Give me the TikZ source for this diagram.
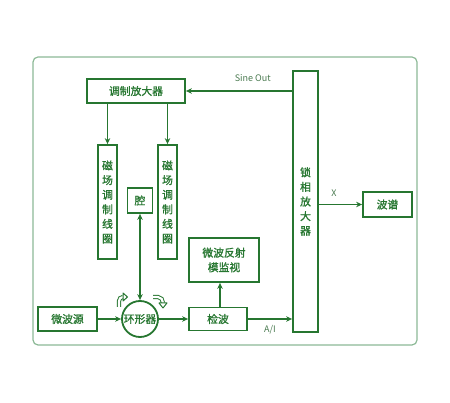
\documentclass[tikz,border=0pt]{standalone}
\usepackage{fontspec}
\setmainfont{Noto Sans CJK SC}
\newfontfamily\cjkb{Noto Sans CJK SC}[FakeBold=1.2]
\usetikzlibrary{arrows.meta}
\definecolor{dgreen}{RGB}{38,118,48}
\definecolor{lgreen}{RGB}{140,185,150}

\begin{document}
\begin{tikzpicture}[x=1pt,y=-1pt,
  box/.style={draw=dgreen, line width=1.8pt, text=dgreen, inner sep=0pt, align=center, font=\cjkb\fontsize{10.8}{14.6}\selectfont},
  link/.style={draw=dgreen, line width=1.8pt, -{Stealth[length=6pt,width=5.5pt]}},
  lbl/.style={text=dgreen!60!gray, font=\fontsize{9}{10}\selectfont},
  turn/.style={draw=dgreen, line width=1pt, double=white, double distance=2.2pt},
  turnhead/.style={draw=dgreen, fill=white, line width=1pt, line join=round}]
\useasboundingbox (0,0) rectangle (450,403);
\draw[lgreen, line width=1.2pt, rounded corners=5pt] (33,57) rectangle (417,345);

% boxes
\node[box, minimum width=98pt, minimum height=24pt] (amp) at (136,91) {调制放大器};
\node[box, minimum width=19pt, minimum height=114pt] (coilL) at (107.5,202) {磁\\场\\调\\制\\线\\圈};
\node[box, minimum width=19pt, minimum height=114pt] (coilR) at (167.5,202) {磁\\场\\调\\制\\线\\圈};
\node[box, minimum width=25pt, minimum height=25pt] (cav) at (140,200.5) {腔};
\node[box, circle, minimum size=36pt] (circ) at (140,319) {环形器};
\node[box, minimum width=59pt, minimum height=24pt] (src) at (67.5,319) {微波源};
\node[box, minimum width=58pt, minimum height=23pt] (det) at (218,319) {检波};
\node[box, minimum width=70pt, minimum height=44pt] (mon) at (224,260) {微波反射\\模监视};
\node[box, minimum width=25pt, minimum height=261pt] (lockin) at (305.5,201.5) {锁\\相\\放\\大\\器};
\node[box, minimum width=49pt, minimum height=25pt] (spec) at (387.5,204.5) {波谱};

% connectors
\draw[link] (amp.east -| lockin.west) -- (amp.east) node[lbl, pos=0.37, above=5pt] {Sine Out};
\draw[link] (amp.south -| coilL) -- (coilL.north);
\draw[link] (amp.south -| coilR) -- (coilR.north);
\draw[link, {Stealth[length=6pt,width=5.5pt]}-{Stealth[length=6pt,width=5.5pt]}] (cav.south) -- (circ.north);
\draw[link] (src.east) -- (circ.west);
\draw[link] (circ.east) -- (det.west);
\draw[link] (det.north -| mon.south) ++(-4,0) coordinate (up) -- (up |- mon.south);
\draw[link] (det.east) -- (det.east -| lockin.west) node[lbl, pos=0.5, below=2pt] {A/I};
\draw[link] (spec.west -| lockin.east) -- (spec.west) node[lbl, pos=0.35, above=4pt] {X};

% turning arrows at the circulator
\draw[turn] (119,307) -- (119,301) to[out=90,in=180] (123,297);
\draw[turnhead] (123,293) -- (127.5,297) -- (123,301) -- cycle;
\draw[turn] (153,297) -- (158,297) to[out=0,in=90] (163,303);
\draw[turnhead] (159,303) -- (163,308) -- (167,303) -- cycle;
\end{tikzpicture}
\end{document}
